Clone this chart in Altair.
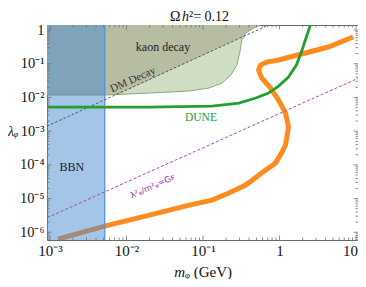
import math
import altair as alt
import pandas as pd

# ---------------- data ----------------
X_DOMAIN = [9.14e-4, 10.6]
Y_DOMAIN = [5.9e-7, 1.41]
X_MAJOR = [1e-3, 1e-2, 1e-1, 1, 10]
X_LABELS = ["10⁻³", "10⁻²", "10⁻¹", "1", "10"]
Y_MAJOR = [1e-6, 1e-5, 1e-4, 1e-3, 1e-2, 1e-1, 1]
Y_LABELS = ["10⁻⁶", "10⁻⁵", "10⁻⁴", "10⁻³", "10⁻²", "10⁻¹", "1"]

# relic-abundance curve (orange)
relic_m = [1.27e-3, 5.18e-3, 0.0199, 0.0658, 0.131, 0.218, 0.362, 0.583, 0.887,
           1.06, 1.197, 1.31, 1.197, 0.97, 0.764, 0.583, 0.533, 0.566, 0.678,
           0.97, 2.18, 4.33, 9.14]
relic_l = [6.28e-7, 1.53e-6, 3.24e-6, 6.41e-6, 9.02e-6, 1.46e-5, 2.52e-5, 5.71e-5,
           1.13e-4, 2.24e-4, 3.87e-4, 1.32e-3, 3.45e-3, 8.37e-3, 0.019, 0.0377,
           0.065, 0.0915, 0.112, 0.129, 0.208, 0.313, 0.62]

# DUNE sensitivity (green)
dune_m = [9.14e-4, 0.0199, 0.131, 0.294, 0.488, 0.719, 0.970, 1.31, 1.66, 1.93, 2.24, 2.53]
dune_l = [5.19e-3, 5.19e-3, 5.56e-3, 6.82e-3, 9.6e-3, 0.0135, 0.0218, 0.0403, 0.0915,
          0.222, 0.62, 1.41]

# kaon decay excluded region: lower boundary (region extends to the top)
kaon_m = [9.14e-4, 5.18e-3, 0.0199, 0.0658, 0.1197, 0.1766, 0.231, 0.277, 0.303,
          0.321, 0.362, 0.459, 0.566]
kaon_l = [0.01178, 0.01178, 0.01351, 0.01549, 0.0190, 0.0267, 0.0462, 0.0915, 0.222,
          0.505, 0.815, 1.15, 1.41]

# part of the kaon region lying above the DM-decay line
dmk_m = [9.14e-4, 5.18e-3, 8.15e-3, 0.34, 0.362, 0.459, 0.566]
dmk_l = [0.01178, 0.01178, 0.0128, 0.65, 0.815, 1.15, 1.41]

# DM decay line (dashed black)
dm_m = [9.14e-4, 0.72]
dm_l = [1.41e-3, 1.41]

# lambda^2/m^2 = G_F line (dashed purple)
gf_m = [9.14e-4, 10.6]
gf_l = [2.7e-6, 0.037]

# BBN excluded mass range
bbn_m = [9.14e-4, 5.2e-3]

# in-plot labels
txt_names = ["kaon decay", "BBN"]
txt_m = [0.030, 1.93e-3]
txt_l = [0.313, 8.6e-5]
dune_txt = ["DUNE"]
dune_txt_m = [0.094]
dune_txt_l = [0.00245]
dm_txt = ["DM Decay"]
dm_txt_m = [0.0121]
dm_txt_l = [0.0330]
gf_txt = ["λ²ᵩ/m²ᵩ=Gꜰ"]
gf_txt_m = [0.0218]
gf_txt_l = [2.35e-5]

# ---------------- styling ----------------
W, H = 311, 215
SERIF = "Liberation Serif"
xs = alt.Scale(type="log", domain=X_DOMAIN, nice=False)
ys = alt.Scale(type="log", domain=Y_DOMAIN, nice=False)


def label_expr(vals, labels):
    expr = "''"
    for v, s in zip(vals, labels):
        e = round(math.log10(v))
        expr = f"round(log(datum.value)/LN10) == {e} ? '{s}' : ({expr})"
    return expr


AX_X = alt.Axis(values=X_MAJOR, labelExpr=label_expr(X_MAJOR, X_LABELS), ticks=False,
                domain=False, grid=False, title=None, labelFont=SERIF, labelFontSize=15,
                labelColor="#111", labelPadding=3, labelFlush=2, labelFlushOffset=1.5,
                labelOverlap=False)
AX_Y = alt.Axis(values=Y_MAJOR, labelExpr=label_expr(Y_MAJOR, Y_LABELS), ticks=False,
                domain=False, grid=False, title=None, labelFont=SERIF, labelFontSize=14.5,
                labelColor="#111", labelPadding=3, labelFlush=False, labelOverlap=False)


def X(f="m"):
    return alt.X(f"{f}:Q", scale=xs, axis=AX_X)


def Y(f="l"):
    return alt.Y(f"{f}:Q", scale=ys, axis=AX_Y)


def line(m, l, color, width, dash=None):
    df = pd.DataFrame({"m": m, "l": l, "i": list(range(len(m)))})
    kw = dict(color=color, strokeWidth=width, clip=True)
    if dash:
        kw["strokeDash"] = dash
    return alt.Chart(df).mark_line(**kw).encode(x=X(), y=Y(), order="i:Q")


def region(m, l, color):
    df = pd.DataFrame({"m": m, "l": l, "top": [Y_DOMAIN[1]] * len(m)})
    return alt.Chart(df).mark_area(color=color, opacity=1, clip=True).encode(
        x=X(), y=Y(), y2="top:Q")


bbn_df = pd.DataFrame({"m": [bbn_m[0]], "m2": [bbn_m[1]],
                       "l": [Y_DOMAIN[0]], "l2": [Y_DOMAIN[1]]})
bbn = alt.Chart(bbn_df).mark_rect(color="#4989d1", opacity=0.5, clip=True).encode(
    x=X(), x2="m2:Q", y=Y(), y2="l2:Q")
bbn_edge = alt.Chart(pd.DataFrame({"m": [bbn_m[1]], "l": [Y_DOMAIN[0]], "l2": [Y_DOMAIN[1]]})
                     ).mark_rule(color="#4a8fe0", strokeWidth=1.2).encode(
    x=X(), y=Y(), y2="l2:Q")

kaon = region(kaon_m, kaon_l, "#cfddc4")
dmk = region(dmk_m, dmk_l, "#b7bda3")
kaon_edge = line(kaon_m, kaon_l, "#7f9f70", 0.9)
dm_line = line(dm_m, dm_l, "#4a4a4a", 0.9, [2.5, 2])
gf_line = line(gf_m, gf_l, "#a844c0", 1.0, [3, 2])
dune = line(dune_m, dune_l, "#22a02c", 2.8)
relic = line(relic_m, relic_l, "#ff8b1f", 5)


def texts(names, m, l, color, size, angle=0, font=SERIF):
    df = pd.DataFrame({"t": names, "m": m, "l": l})
    return alt.Chart(df).mark_text(color=color, fontSize=size, font=font,
                                   angle=angle, baseline="middle", align="center").encode(
        x=X(), y=Y(), text="t:N")


t_black = texts(txt_names, txt_m, txt_l, "#222", 12)
t_dune = texts(dune_txt, dune_txt_m, dune_txt_l, "#22a02c", 11.5)
t_dm = texts(dm_txt, dm_txt_m, dm_txt_l, "#333", 11, angle=336)
t_gf = texts(gf_txt, gf_txt_m, gf_txt_l, "#a030b0", 8.5, angle=336, font="DejaVu Sans")


def fixed_text(s, x, y, size=15, style="normal", align="left", baseline="alphabetic"):
    return alt.Chart(pd.DataFrame({"t": [s]})).mark_text(
        fontSize=size, font=SERIF, fontStyle=style, align=align, baseline=baseline,
        color="#111").encode(text="t:N", x=alt.value(x), y=alt.value(y))


title_parts = [
    fixed_text("Ω", 123, -4, size=14),
    fixed_text("h", 135, -4, size=14, style="italic"),
    fixed_text("²= 0.12", 142, -4, size=14),
    fixed_text("m", 138, 252, style="italic", align="right"),
    fixed_text("ᵩ (GeV)", 138, 252),
    fixed_text("λᵩ", -39, 107, size=14, style="italic", baseline="middle"),
]

# frame ticks (inward, Mathematica style)
x_minor = [k * 10.0 ** e for e in range(-4, 2) for k in range(2, 10)
           if X_DOMAIN[0] < k * 10.0 ** e < X_DOMAIN[1]]
y_minor = [k * 10.0 ** e for e in range(-7, 1) for k in range(2, 10)
           if Y_DOMAIN[0] < k * 10.0 ** e < Y_DOMAIN[1]]
TICK = "#707070"


def xticks(vals, length):
    df = pd.DataFrame({"m": vals})
    base = alt.Chart(df).mark_rule(color=TICK, strokeWidth=0.8)
    return [base.encode(x=X(), y=alt.value(H), y2=alt.value(H - length)),
            base.encode(x=X(), y=alt.value(0), y2=alt.value(length))]


def yticks(vals, length):
    df = pd.DataFrame({"l": vals})
    base = alt.Chart(df).mark_rule(color=TICK, strokeWidth=0.8)
    return [base.encode(y=Y(), x=alt.value(0), x2=alt.value(length)),
            base.encode(y=Y(), x=alt.value(W), x2=alt.value(W - length))]


ticks = xticks(X_MAJOR, 4.5) + xticks(x_minor, 2.5) + yticks(Y_MAJOR, 4.5) + yticks(y_minor, 2.5)

chart = alt.layer(
    kaon, dmk, kaon_edge, relic, bbn, bbn_edge, dm_line, gf_line, dune,
    t_black, t_dune, t_dm, t_gf, *title_parts, *ticks,
).properties(
    width=W, height=H,
    autosize=alt.AutoSizeParams(type="none"),
    padding={"left": 39, "top": 17, "right": 0, "bottom": 39},
).configure_view(stroke="#6a6a6a", strokeWidth=1)

chart.save("out.html", embed_options={"renderer": "svg", "actions": False})
